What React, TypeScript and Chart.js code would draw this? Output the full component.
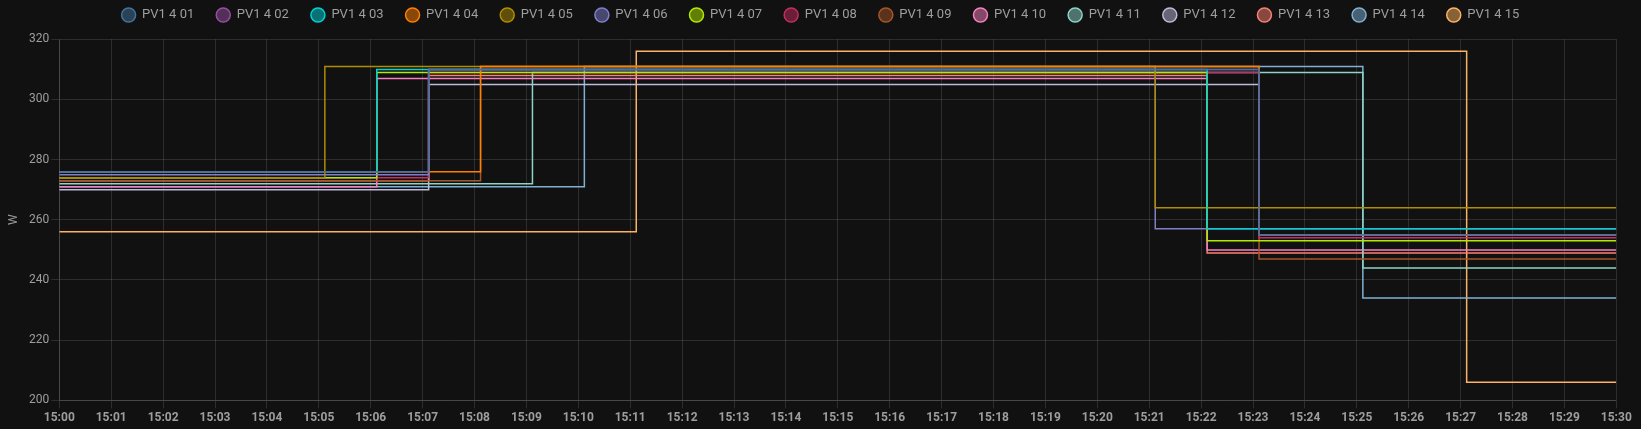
import React, { useEffect, useRef } from "react";
import { Chart, registerables } from "chart.js";

Chart.register(...registerables);

const SERIES_NAMES = [
  "PV1 4 01", "PV1 4 02", "PV1 4 03", "PV1 4 04", "PV1 4 05",
  "PV1 4 06", "PV1 4 07", "PV1 4 08", "PV1 4 09", "PV1 4 10",
  "PV1 4 11", "PV1 4 12", "PV1 4 13", "PV1 4 14", "PV1 4 15",
];

const COLORS = [
  "#44739e", "#984ea3", "#00d2d5", "#ff7f00", "#af8d00",
  "#7f80cd", "#b3e900", "#c42e60", "#a65628", "#f781bf",
  "#8dd3c7", "#bebada", "#fb8072", "#80b1d3", "#fdb462",
];

// [time, watts] at each change of state
const PV1_4_01: [string, number][] = [["15:00:00", 276], ["15:07:07", 310], ["15:23:07", 255], ["15:30:00", 255]];
const PV1_4_02: [string, number][] = [["15:00:00", 276], ["15:07:07", 310], ["15:23:07", 255], ["15:30:00", 255]];
const PV1_4_03: [string, number][] = [["15:00:00", 276], ["15:06:07", 310], ["15:22:07", 257], ["15:30:00", 257]];
const PV1_4_04: [string, number][] = [["15:00:00", 276], ["15:08:07", 311], ["15:23:07", 255], ["15:30:00", 255]];
const PV1_4_05: [string, number][] = [["15:00:00", 274], ["15:05:07", 311], ["15:21:07", 264], ["15:30:00", 264]];
const PV1_4_06: [string, number][] = [["15:00:00", 275], ["15:07:07", 310], ["15:21:07", 257], ["15:30:00", 257]];
const PV1_4_07: [string, number][] = [["15:00:00", 274], ["15:06:07", 309], ["15:22:07", 253], ["15:30:00", 253]];
const PV1_4_08: [string, number][] = [["15:00:00", 274], ["15:07:07", 309], ["15:23:07", 254], ["15:30:00", 254]];
const PV1_4_09: [string, number][] = [["15:00:00", 273], ["15:08:07", 311], ["15:23:07", 247], ["15:30:00", 247]];
const PV1_4_10: [string, number][] = [["15:00:00", 271], ["15:06:07", 307], ["15:22:07", 250], ["15:30:00", 250]];
const PV1_4_11: [string, number][] = [["15:00:00", 272], ["15:09:07", 309], ["15:25:07", 244], ["15:30:00", 244]];
const PV1_4_12: [string, number][] = [["15:00:00", 270], ["15:07:07", 305], ["15:23:07", 255], ["15:30:00", 255]];
const PV1_4_13: [string, number][] = [["15:00:00", 273], ["15:07:07", 308], ["15:22:07", 249], ["15:30:00", 249]];
const PV1_4_14: [string, number][] = [["15:00:00", 271], ["15:10:07", 311], ["15:25:07", 234], ["15:30:00", 234]];
const PV1_4_15: [string, number][] = [["15:00:00", 256], ["15:11:07", 316], ["15:27:07", 206], ["15:30:00", 206]];

const SERIES = [
  PV1_4_01, PV1_4_02, PV1_4_03, PV1_4_04, PV1_4_05,
  PV1_4_06, PV1_4_07, PV1_4_08, PV1_4_09, PV1_4_10,
  PV1_4_11, PV1_4_12, PV1_4_13, PV1_4_14, PV1_4_15,
];

const X_TICK_LABELS = [
  "15:00", "15:01", "15:02", "15:03", "15:04", "15:05", "15:06", "15:07",
  "15:08", "15:09", "15:10", "15:11", "15:12", "15:13", "15:14", "15:15",
  "15:16", "15:17", "15:18", "15:19", "15:20", "15:21", "15:22", "15:23",
  "15:24", "15:25", "15:26", "15:27", "15:28", "15:29", "15:30",
];

const Y_MIN = 200;
const Y_MAX = 320;
const Y_STEP = 20;
const Y_TITLE = "W";

const toMinutes = (t: string) => {
  const [h, m, s] = t.split(":").map(Number);
  return (h - 15) * 60 + m + s / 60;
};

const withAlpha = (hex: string, a: number) => {
  const n = parseInt(hex.slice(1), 16);
  return `rgba(${(n >> 16) & 255}, ${(n >> 8) & 255}, ${n & 255}, ${a})`;
};

const TEXT = "rgb(158,158,158)";
const GRID = "rgba(255,255,255,0.12)";

export default function App() {
  const ref = useRef<HTMLCanvasElement>(null);

  useEffect(() => {
    document.body.style.margin = "0";
    document.body.style.background = "#111111";
    const canvas = ref.current;
    if (!canvas) return;

    const datasets = SERIES.map((pts, i) => ({
      label: SERIES_NAMES[i],
      data: pts.map(([t, v]) => ({ x: toMinutes(t), y: v })),
      borderColor: COLORS[i],
      backgroundColor: withAlpha(COLORS[i], 0.5),
      borderWidth: 1.5,
      stepped: "before" as const,
      pointRadius: 0,
      pointHoverRadius: 0,
      fill: false,
    }));

    const legendFix = {
      id: "legendFix",
      beforeLayout(chart: any) {
        const lg = chart.legend;
        if (lg && !lg._patched) {
          const orig = lg.fit;
          lg.fit = function () {
            orig.call(this);
            this.height = 52.8;
          };
          lg._patched = true;
        }
      },
    };

    const chart = new Chart(canvas, {
      type: "line",
      data: { datasets },
      plugins: [legendFix],
      options: {
        animation: false,
        responsive: false,
        maintainAspectRatio: false,
        layout: { padding: { top: -13.5, left: 0, right: 0, bottom: 0 } },
        plugins: {
          legend: {
            display: true,
            position: "top",
            labels: {
              usePointStyle: true,
              pointStyle: "circle",
              boxHeight: 10,
              pointStyleWidth: 14,
              padding: 22,
              color: TEXT,
              font: { family: "Roboto", size: 13 },
            },
          },
          tooltip: { enabled: false },
        },
        scales: {
          x: {
            type: "linear",
            min: 0,
            max: 30,
            afterFit: (s: any) => {
              s.height = 28.7;
              s.paddingRight = 24.7;
            },
            ticks: {
              stepSize: 1,
              autoSkip: false,
              maxRotation: 0,
              padding: 2,
              color: TEXT,
              font: { family: "Roboto", size: 12, weight: "bold" },
              callback: (v: any) => X_TICK_LABELS[Math.round(Number(v))] ?? "",
            },
            grid: { color: GRID, tickLength: 8 },
            border: { color: GRID },
          },
          y: {
            min: Y_MIN,
            max: Y_MAX,
            afterFit: (s: any) => {
              s.width = 59.3;
            },
            ticks: {
              stepSize: Y_STEP,
              padding: 2,
              color: TEXT,
              font: { family: "Roboto", size: 12 },
            },
            grid: { color: GRID, tickLength: 8 },
            border: { color: GRID },
            title: {
              display: true,
              text: Y_TITLE,
              color: TEXT,
              font: { family: "Roboto", size: 12 },
              padding: { top: 7, bottom: 0 },
            },
          },
        },
      },
    } as any);

    return () => chart.destroy();
  }, []);

  return (
    <div style={{ width: 1641, height: 429, background: "#111111" }}>
      <canvas ref={ref} width={1641} height={429} style={{ width: 1641, height: 429, display: "block" }} />
    </div>
  );
}
